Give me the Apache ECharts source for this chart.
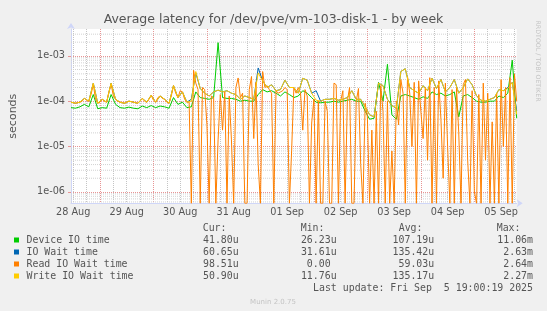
<!DOCTYPE html>
<html>
<head>
<meta charset="utf-8">
<script src="https://cdn.jsdelivr.net/npm/echarts@6/dist/echarts.min.js"></script>
<style>
html,body{margin:0;padding:0;background:#f0f0f0;}
#c{width:547px;height:311px;}
</style>
</head>
<body>
<div id="c"></div>
<script>
// ---- data (hours counted from 28 Aug 00:00) ----
const HOUR_FIRST = 11;   // 28 Aug 11:00
const HOUR_LAST = 211;   // 05 Sep 19:00
const DAY_LABELS = ['28 Aug','29 Aug','30 Aug','31 Aug','01 Sep','02 Sep','03 Sep','04 Sep','05 Sep'];
const SERIES_NAMES = ['Device IO time','IO Wait time','Read IO Wait time','Write IO Wait time'];
const SERIES_COLORS = ['#00cc00','#0066b3','#ff8000','#ffcc00'];
const CUR = ['41.80u','60.65u','98.51u','50.90u'];
const MIN = ['26.23u','31.61u','0.00 ','11.76u'];
const AVG = ['107.19u','135.42u','59.03u','135.17u'];
const MAX = ['11.06m','2.63m','2.64m','2.27m'];
const LAST_UPDATE = 'Last update: Fri Sep  5 19:00:19 2025';

// values in microseconds, every 2 hours from HOUR_FIRST
const deviceIO = [72,70,75,85,75,140,68,72,70,140,
  85,72,70,74,70,68,78,72,80,72,
  78,75,70,120,85,95,72,75,160,120,
  115,110,120,1950,120,115,115,110,100,105,
  100,100,140,180,160,170,150,130,160,140,
  120,130,170,150,120,95,92,95,95,100,
  95,100,105,110,100,100,60,40,42,260,
  100,650,50,40,130,140,130,120,110,125,
  115,160,140,150,130,140,160,45,130,140,
  120,100,95,95,100,100,130,120,150,800,
  42];
const ioWait = [95,90,95,115,100,250,90,110,95,250,
  110,95,90,100,95,90,115,95,135,95,
  130,110,90,220,120,160,95,110,420,190,
  150,130,160,175,160,170,150,140,110,130,
  120,110,540,280,200,230,170,180,290,200,
  200,150,320,290,150,170,100,110,110,115,
  105,110,120,170,110,110,75,50,45,250,
  220,110,80,70,450,520,200,170,150,220,
  170,320,190,300,160,200,300,150,200,310,
  230,130,105,100,110,120,180,170,200,260,
  61];
const writeIO = [95,90,95,115,100,250,90,110,95,250,
  110,95,90,100,95,90,115,95,135,95,
  130,110,90,220,120,160,95,100,450,190,
  150,130,160,175,160,170,150,140,110,130,
  120,110,420,280,200,230,170,180,290,200,
  200,150,320,290,150,105,100,110,110,115,
  105,110,120,170,110,110,75,50,45,250,
  220,110,80,70,450,520,200,170,150,220,
  170,320,190,300,160,200,300,150,200,310,
  230,130,105,100,110,120,180,170,190,260,
  51];
// values in microseconds, every hour from HOUR_FIRST
const readIO = [95,92,90,92,95,100,115,105,100,140,
  240,110,90,95,110,100,95,160,240,130,
  110,100,95,92,90,95,100,98,95,92,
  90,100,115,100,95,110,135,105,95,120,
  130,115,110,95,90,130,220,150,120,170,
  160,110,95,95,
  0,480,250,180,0,200,180,30,0,130,
  120,0,14,140,23,160,0,130,14,0,
  200,325,120,150,0,0,180,350,15,260,
  4,0,450,200,220,180,150,0,170,150,
  160,170,200,180,0,8,200,150,200,150,
  23,180,130,0,33,110,0,100,0,0,
  100,60,0,0,250,230,0,100,170,0,
  100,200,0,0,100,190,4,0,90,45,
  0,23,0,60,0,220,60,0,100,0,
  8,0,100,30,300,150,0,350,150,10,
  260,0,280,60,15,200,5,330,0,200,
  0,280,40,2,250,10,0,180,0,200,
  20,0,230,300,5,0,170,1,0,140,
  0,250,5,150,0,35,0,150,0,300,
  10,200,0,330,0,400,98.5];

// ---- axis scale limits (seconds) ----
const Y_MIN = 5.6e-7;
const Y_MAX = 3.9e-3;

const HOURS = [];
for (let h = HOUR_FIRST; h <= HOUR_LAST; h++) HOURS.push(h);
const HOURS_2H = HOURS.filter(h => (h - HOUR_FIRST) % 2 === 0);

function toPairs(times, vals) {
  // zero cannot sit on a log axis: pin it to the axis floor like rrdtool does
  return vals.map((v, i) => [times[i], v === 0 ? Y_MIN : v * 1e-6]);
}

// minor log grid values (2..9 x decade)
const MINOR_Y = [];
for (let e = -7; e <= -3; e++) {
  for (let m = 2; m <= 9; m++) {
    const v = m * Math.pow(10, e);
    if (v > Y_MIN && v < Y_MAX) MINOR_Y.push(v);
  }
}

const FONT = 'DejaVu Sans';
const MONO = 'DejaVu Sans Mono';
const TXT = '#555';
const MINOR_COL = '#c4c4c4';
const MINOR_COL_H = '#d2d2d2';
const MAJOR_COL = '#e89494';

const chart = echarts.init(document.getElementById('c'), null, {renderer: 'canvas'});

const graphics = [];
const ROW_Y = [240, 252, 264, 276];
const COL_RIGHT = [238.7, 336.6, 434.2, 533];
const COL_HEAD = ['Cur:', 'Min:', 'Avg:', 'Max:'];
const COL_HEAD_X = [202.7, 300.7, 398.7, 496.7];
const monoFont = '9.9px "' + MONO + '"';
COL_HEAD.forEach((t, j) => graphics.push({type: 'text', x: COL_HEAD_X[j], y: 228,
  style: {text: t, font: monoFont, fill: TXT, align: 'left', verticalAlign: 'middle'}}));
const COLS = [CUR, MIN, AVG, MAX];
SERIES_NAMES.forEach((n, i) => {
  graphics.push({type: 'rect', shape: {x: 14, y: ROW_Y[i] - 2.5, width: 5, height: 5},
    style: {fill: SERIES_COLORS[i]}});
  graphics.push({type: 'text', x: 26.5, y: ROW_Y[i],
    style: {text: n, font: monoFont, fill: TXT, align: 'left', verticalAlign: 'middle'}});
  COLS.forEach((col, j) => graphics.push({type: 'text', x: COL_RIGHT[j], y: ROW_Y[i],
    style: {text: col[i], font: monoFont, fill: TXT, align: 'right', verticalAlign: 'middle'}}));
});
graphics.push({type: 'text', x: 533, y: 288.5,
  style: {text: LAST_UPDATE, font: monoFont, fill: TXT, align: 'right', verticalAlign: 'middle'}});
graphics.push({type: 'text', x: 273, y: 302,
  style: {text: 'Munin 2.0.75', font: '7px "' + FONT + '"', fill: '#c4c4c4', align: 'center', verticalAlign: 'middle'}});
graphics.push({type: 'text', x: 538, y: 61, rotation: -Math.PI / 2,
  style: {text: 'RRDTOOL / TOBI OETIKER', font: '6.3px "' + FONT + '"', fill: '#c4c4c4', align: 'center', verticalAlign: 'middle'}});

const seriesData = [
  toPairs(HOURS_2H, deviceIO),
  toPairs(HOURS_2H, ioWait),
  toPairs(HOURS, readIO),
  toPairs(HOURS_2H, writeIO)
];

const series = [];
// minor horizontal grid lines (log 2..9), drawn through the axis scales
MINOR_Y.forEach(v => series.push({
  type: 'line', data: [[HOUR_FIRST, v], [HOUR_LAST, v]], xAxisIndex: 0, yAxisIndex: 0,
  symbol: 'none', silent: true, z: 1, animation: false,
  lineStyle: {color: MINOR_COL_H, width: 1, type: [1, 1]}
}));
SERIES_NAMES.forEach((n, i) => series.push({
  type: 'line', name: n, data: seriesData[i], xAxisIndex: 0, yAxisIndex: 0,
  symbol: 'none', showSymbol: false, animation: false, clip: true,
  lineStyle: {width: 1, color: SERIES_COLORS[i]}, itemStyle: {color: SERIES_COLORS[i]}, z: 2 + i
}));

chart.setOption({
  backgroundColor: '#f0f0f0',
  animation: false,
  title: {
    text: 'Average latency for /dev/pve/vm-103-disk-1 - by week',
    left: 'center', top: 13, padding: 0,
    textStyle: {fontFamily: FONT, fontSize: 12.5, fontWeight: 'normal', color: TXT}
  },
  grid: {left: 66.5, right: 30.3, top: 29, bottom: 107.7, show: true,
    backgroundColor: '#ffffff', borderWidth: 0, containLabel: false},
  xAxis: [
    {type: 'value', min: HOUR_FIRST, max: HOUR_LAST, show: false},
    {type: 'category', data: HOURS, boundaryGap: false, position: 'bottom',
      axisLine: {show: false}, axisTick: {show: false}, axisLabel: {show: false},
      splitLine: {show: true, interval: (i, v) => Number(v) % 6 === 0 && Number(v) % 24 !== 0,
        lineStyle: {color: MINOR_COL, type: [1, 1], width: 1}}},
    {type: 'category', data: HOURS, boundaryGap: false, position: 'bottom',
      axisLine: {show: true, lineStyle: {color: '#cfd6f8', width: 1},
        symbol: ['none', 'arrow'], symbolSize: [6, 6], symbolOffset: [0, 6]},
      axisTick: {show: false},
      axisLabel: {show: true, interval: (i, v) => Number(v) % 24 === 12,
        formatter: v => DAY_LABELS[Math.floor(Number(v) / 24)],
        fontFamily: FONT, fontSize: 9.7, color: TXT, margin: 4},
      splitLine: {show: true, interval: (i, v) => Number(v) % 24 === 0,
        lineStyle: {color: MAJOR_COL, type: [1, 1], width: 1}}}
  ],
  yAxis: {
    type: 'log', logBase: 10, min: Y_MIN, max: Y_MAX,
    name: 'seconds', nameLocation: 'middle', nameGap: 52, nameRotate: 90,
    nameTextStyle: {fontFamily: FONT, fontSize: 11, color: TXT},
    axisLine: {show: true, lineStyle: {color: '#cfd6f8', width: 1},
      symbol: ['none', 'arrow'], symbolSize: [6, 6], symbolOffset: [0, 6]},
    axisTick: {show: true, length: 3, lineStyle: {color: MAJOR_COL}},
    axisLabel: {showMinLabel: false, showMaxLabel: false, margin: 6,
      fontFamily: FONT, fontSize: 9.7, color: TXT,
      formatter: v => {
        const e = Math.round(Math.log10(v));
        return '1e' + (e < 0 ? '-' : '+') + String(Math.abs(e)).padStart(2, '0');
      }},
    splitLine: {show: true, showMinLine: false, showMaxLine: false,
      lineStyle: {color: MAJOR_COL, type: [1, 1], width: 1}}
  },
  graphic: graphics,
  series: series
});
</script>
</body>
</html>
